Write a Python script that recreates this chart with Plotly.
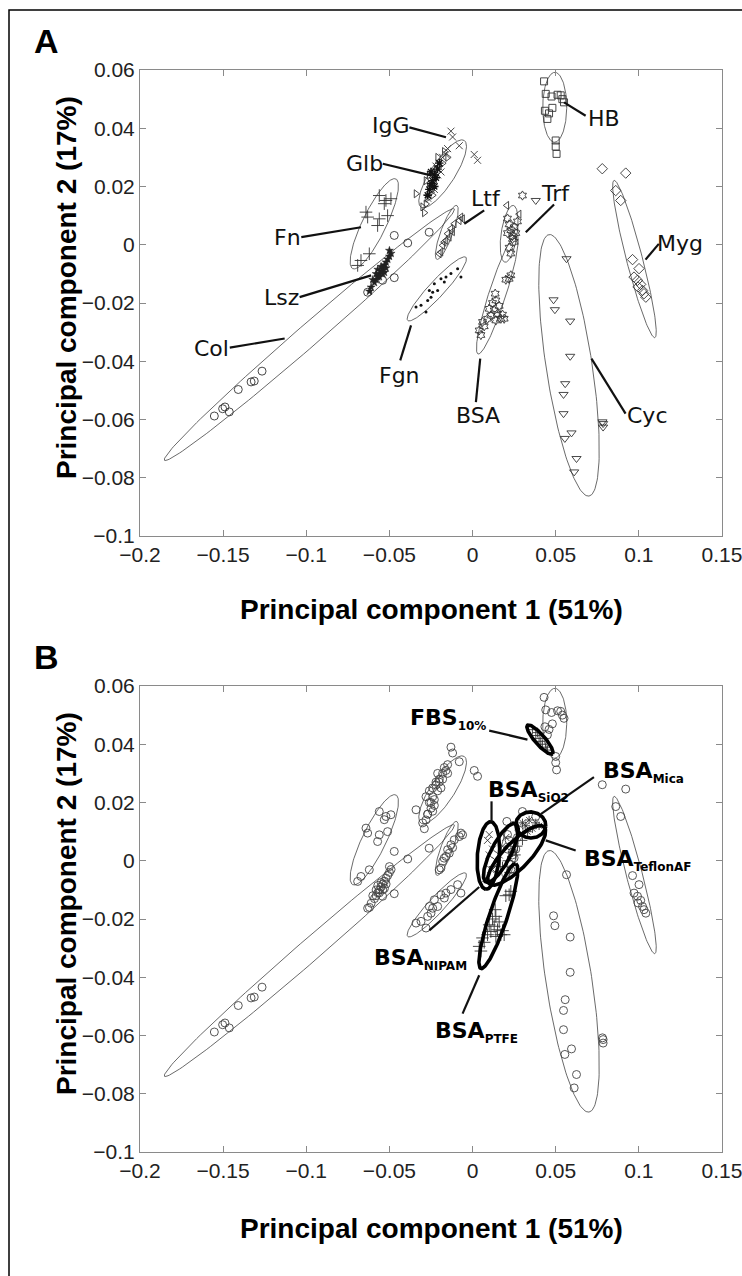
import numpy as np
import plotly.graph_objects as go

# ---------------- data ----------------
X_TICKS = [-0.2, -0.15, -0.1, -0.05, 0, 0.05, 0.1, 0.15]
X_TICK_TEXT = ["\u22120.2", "\u22120.15", "\u22120.1", "\u22120.05", "0", "0.05", "0.1", "0.15"]
Y_TICKS = [-0.1, -0.08, -0.06, -0.04, -0.02, 0, 0.02, 0.04, 0.06]
Y_TICK_TEXT = ["\u22120.1", "\u22120.08", "\u22120.06", "\u22120.04", "\u22120.02", "0", "0.02", "0.04", "0.06"]

HB_X = [0.043, 0.044, 0.0475, 0.0511, 0.053, 0.055, 0.0435, 0.046, 0.045, 0.050, 0.050, 0.0505, 0.048, 0.054]
HB_Y = [0.0561, 0.0518, 0.0509, 0.0515, 0.0513, 0.0489, 0.046, 0.0451, 0.0432, 0.0358, 0.0337, 0.0312, 0.047, 0.050]

IGG_X = [-0.013, -0.012, -0.008, 0.001, 0.003, -0.015, -0.018, -0.020, -0.022, -0.016, -0.019, -0.024, -0.021, -0.025, -0.023, -0.027]
IGG_Y = [0.039, 0.037, 0.034, 0.031, 0.029, 0.033, 0.030, 0.028, 0.027, 0.031, 0.025, 0.022, 0.024, 0.020, 0.019, 0.016]

GLB_X = [-0.034, -0.028, -0.026, -0.024, -0.022, -0.020, -0.018, -0.023, -0.025, -0.027, -0.028, -0.030, -0.021, -0.017, -0.015, -0.026, -0.024, -0.029]
GLB_Y = [0.0175, 0.022, 0.024, 0.025, 0.026, 0.027, 0.028, 0.021, 0.018, 0.016, 0.014, 0.013, 0.030, 0.032, 0.030, 0.020, 0.017, 0.011]
GLB2_X = [-0.026, -0.025, -0.024, -0.023, -0.022, -0.021, -0.027, -0.025, -0.023, -0.020]
GLB2_Y = [0.019, 0.021, 0.022, 0.024, 0.023, 0.026, 0.017, 0.025, 0.020, 0.028]

FN_X = [-0.0641, -0.0631, -0.0561, -0.0521, -0.0491, -0.0561, -0.0571, -0.0511, -0.0621, -0.0671, -0.0691, -0.0531]
FN_Y = [0.0112, 0.0095, 0.0169, 0.0152, 0.0158, 0.0089, 0.0066, 0.0100, -0.0031, -0.0054, -0.0071, 0.0141]

COL_X = [-0.1553, -0.1503, -0.1489, -0.1463, -0.1409, -0.1332, -0.1313, -0.1266, -0.0471, -0.039, -0.0261, -0.0631, -0.0471, -0.0541]
COL_Y = [-0.0588, -0.0563, -0.0557, -0.0574, -0.0497, -0.0471, -0.0468, -0.0434, 0.0032, 0.0006, 0.0043, -0.0163, -0.0113, -0.0122]

LSZ_X = [-0.061, -0.059, -0.058, -0.057, -0.056, -0.055, -0.054, -0.053, -0.052, -0.051, -0.050, -0.049, -0.058, -0.056, -0.054, -0.052, -0.060, -0.057, -0.055, -0.053, -0.062, -0.050]
LSZ_Y = [-0.0146, -0.013, -0.012, -0.011, -0.010, -0.009, -0.008, -0.007, -0.006, -0.005, -0.004, -0.003, -0.010, -0.011, -0.010, -0.008, -0.012, -0.0085, -0.0075, -0.0095, -0.016, -0.002]

LTF_X = [-0.019, -0.0171, -0.015, -0.013, -0.011, -0.007, -0.008, -0.014, -0.020, -0.018, -0.006, -0.012, -0.016, 0.0206, 0.028]
LTF_Y = [-0.0025, 0.0009, 0.0038, 0.0055, 0.0072, 0.0095, 0.0083, 0.0026, -0.0031, -0.0002, 0.0089, 0.0045, 0.0015, 0.0135, 0.0105]

FGN_X = [-0.034, -0.031, -0.027, -0.024, -0.021, -0.019, -0.016, -0.013, -0.009, -0.007, -0.028, -0.026, -0.023, -0.025, -0.017]
FGN_Y = [-0.0214, -0.0208, -0.0191, -0.0163, -0.0157, -0.0117, -0.0111, -0.0099, -0.0082, -0.0111, -0.0231, -0.0157, -0.0134, -0.018, -0.0128]

TRF_X = [0.021, 0.022, 0.023, 0.024, 0.025, 0.022, 0.023, 0.024, 0.026, 0.021, 0.025, 0.027, 0.030]
TRF_Y = [0.009, 0.007, 0.005, 0.003, 0.001, -0.001, -0.003, 0.002, 0.004, 0.004, 0.006, 0.008, 0.0169]

BSA_X = [0.022, 0.014, 0.013, 0.017, 0.006, 0.004, 0.015, 0.011, 0.009, 0.019, 0.0136, 0.023, 0.012, 0.010, 0.016, 0.018, 0.007, 0.005, 0.014, 0.020]
BSA_Y = [-0.0117, -0.0191, -0.0225, -0.0254, -0.0265, -0.0294, -0.0237, -0.0243, -0.0254, -0.0254, -0.0168, -0.0105, -0.020, -0.022, -0.021, -0.024, -0.028, -0.031, -0.026, -0.012]

CYC_X = [0.0565, 0.0487, 0.0495, 0.0587, 0.0587, 0.0557, 0.0547, 0.0547, 0.0595, 0.0555, 0.0625, 0.0611, 0.0785, 0.0785, 0.0781, 0.038]
CYC_Y = [-0.0048, -0.0189, -0.0223, -0.0262, -0.0383, -0.0477, -0.0514, -0.058, -0.0646, -0.0665, -0.0734, -0.078, -0.0614, -0.0626, -0.0608, 0.0152]

MYG_X = [0.078, 0.0921, 0.0861, 0.0891, 0.0962, 0.1001, 0.0971, 0.0992, 0.1011, 0.1022, 0.1042, 0.0995, 0.1031]
MYG_Y = [0.0261, 0.0246, 0.0186, 0.0152, -0.0051, -0.0082, -0.0111, -0.0122, -0.0136, -0.0157, -0.018, -0.0145, -0.0168]

# panel B extra groups (BSA on surfaces, FBS)
FBS_X = [0.036, 0.038, 0.040, 0.042, 0.044, 0.039, 0.041, 0.045]
FBS_Y = [0.045, 0.043, 0.042, 0.040, 0.039, 0.044, 0.041, 0.038]
SIO2_X = [0.009, 0.010, 0.011, 0.012, 0.008, 0.010]
SIO2_Y = [0.007, 0.002, -0.003, 0.004, -0.006, 0.009]
MICA_X = [0.030, 0.032, 0.034, 0.036, 0.038, 0.033, 0.040]
MICA_Y = [0.013, 0.012, 0.014, 0.011, 0.013, 0.010, 0.012]
TEF_X = [0.018, 0.021, 0.024, 0.027, 0.030, 0.022, 0.026]
TEF_Y = [-0.002, 0.000, 0.003, 0.005, 0.007, -0.004, 0.002]
NIP_X = [0.012, 0.014, 0.016, 0.018, 0.020, 0.015]
NIP_Y = [-0.003, 0.000, 0.002, 0.005, 0.008, -0.001]

# ellipses: tip1 (x,y), tip2 (x,y), minor half-width (px)
ELL_A = {
    "HB":  (0.0495, 0.0592, 0.0493, 0.0352, 12),
    "IgG": (-0.031, 0.0129, -0.005, 0.0358, 12),
    "Fn":  (-0.0461, 0.0226, -0.0721, -0.0082, 12),
    "Col": (-0.1853, -0.074, -0.011, 0.0123, 11),
    "Ltf": (-0.0215, -0.005, -0.0095, 0.0135, 6),
    "Fgn": (-0.039, -0.026, -0.004, -0.0043, 8),
    "Trf": (0.0195, -0.006, 0.0245, 0.0135, 8),
    "BSA": (0.0033, -0.0375, 0.0265, 0.0035, 8.5),
    "Cyc": (0.046, 0.0035, 0.070, -0.0863, 23),
    "Myg": (0.0851, 0.0221, 0.1096, -0.0319, 8),
}
ELL_B_BOLD = {
    "FBS":   (0.033, 0.0465, 0.048, 0.0367, 5),
    "SiO2":  (0.011, 0.0134, 0.008, -0.0098, 11),
    "Mica":  (0.026, 0.0128, 0.044, 0.0118, 13),
    "Teflon": (0.010, -0.0079, 0.043, 0.0116, 13),
    "NIPAM": (0.008, -0.0073, 0.026, 0.0127, 10),
    "PTFE":  (0.005, -0.037, 0.026, -0.001, 9),
}

# labels panel A: text, text pos, leader line
LAB_A = [
    ("HB", 0.079, 0.0432, 0.055, 0.0489, 0.068, 0.0443),
    ("IgG", -0.049, 0.0409, -0.038, 0.0403, -0.016, 0.0369),
    ("Glb", -0.065, 0.0278, -0.054, 0.0278, -0.025, 0.0238),
    ("Fn", -0.111, 0.0026, -0.103, 0.0026, -0.0671, 0.006),
    ("Lsz", -0.115, -0.018, -0.104, -0.018, -0.061, -0.0105),
    ("Col", -0.157, -0.0357, -0.146, -0.0353, -0.113, -0.0322),
    ("Fgn", -0.044, -0.0448, -0.037, -0.0277, -0.0435, -0.0397),
    ("Ltf", 0.008, 0.0158, 0.007, 0.0118, -0.005, 0.0072),
    ("Trf", 0.050, 0.0175, 0.049, 0.0138, 0.032, 0.0043),
    ("BSA", 0.003, -0.0586, 0.0046, -0.0391, 0.002, -0.054),
    ("Cyc", 0.105, -0.0586, 0.0715, -0.0391, 0.092, -0.058),
    ("Myg", 0.125, 0.0003, 0.104, -0.0051, 0.112, 0.0003),
]
# labels panel B: main, subscript, x, y, anchor, leader line
LAB_B = [
    ("FBS", "10%", -0.039, 0.0487, "left", 0.010, 0.0447, 0.033, 0.0416),
    ("BSA", "SiO2", 0.008, 0.0241, "left", 0.0114, 0.0204, 0.0114, 0.0134),
    ("BSA", "Mica", 0.077, 0.0304, "left", 0.073, 0.0287, 0.041, 0.016),
    ("BSA", "TeflonAF", 0.066, 0.0001, "left", 0.044, 0.0070, 0.062, 0.0035),
    ("BSA", "NIPAM", -0.002, -0.0336, "right", -0.026, -0.0239, 0.004, -0.009),
    ("BSA", "PTFE", -0.024, -0.0588, "left", 0.004, -0.0393, -0.006, -0.0525),
]

# ---------------- geometry ----------------
W, H = 742, 1276
AX_L, AX_R = 140, 722
PANELS = {"A": (70, 536), "B": (686, 1152)}
XR = (-0.2, 0.15)
YR = (-0.1, 0.06)
SX = (AX_R - AX_L) / (XR[1] - XR[0])
SY = (PANELS["A"][1] - PANELS["A"][0]) / (YR[1] - YR[0])


def ellipse(p, n=160):
    x1, y1, x2, y2, w = p
    p1 = np.array([x1 * SX, y1 * SY])
    p2 = np.array([x2 * SX, y2 * SY])
    c = (p1 + p2) / 2
    u = (p2 - p1) / 2
    L = np.hypot(*u)
    v = np.array([-u[1], u[0]]) / L * w
    t = np.linspace(0, 2 * np.pi, n)
    pts = c[:, None] + np.outer(u, np.cos(t)) + np.outer(v, np.sin(t))
    return pts[0] / SX, pts[1] / SY


fig = go.Figure()
MC = "#333333"


def pts(x, y, sym, ax, size=7, color=MC, lw=0.9):
    xa, ya = ("x", "y") if ax == "A" else ("x2", "y2")
    fig.add_trace(go.Scatter(
        x=x, y=y, mode="markers", xaxis=xa, yaxis=ya, showlegend=False, hoverinfo="skip",
        marker=dict(symbol=sym, size=size, color=color, line=dict(color=color, width=lw))))


def line(x, y, ax, width=0.8, color="#444444"):
    xa, ya = ("x", "y") if ax == "A" else ("x2", "y2")
    fig.add_trace(go.Scatter(x=x, y=y, mode="lines", xaxis=xa, yaxis=ya, showlegend=False,
                             hoverinfo="skip", line=dict(color=color, width=width)))


# ---------- panel A ----------
for k, p in ELL_A.items():
    ex, ey = ellipse(p)
    line(ex, ey, "A")
pts(HB_X, HB_Y, "square-open", "A")
pts(IGG_X, IGG_Y, "x-thin-open", "A", size=7)
pts(GLB_X, GLB_Y, "triangle-right-open", "A")
pts(GLB2_X, GLB2_Y, "asterisk-open", "A", size=7, lw=1.3, color="#111111")
pts(FN_X, FN_Y, "cross-thin-open", "A", size=9)
pts(COL_X, COL_Y, "circle-open", "A", size=8)
pts(LSZ_X, LSZ_Y, "star", "A", size=6, color="#222222", lw=0.5)
pts(LTF_X, LTF_Y, "triangle-left-open", "A")
pts(FGN_X, FGN_Y, "circle", "A", size=3, color="#111111", lw=0)
pts(TRF_X, TRF_Y, "hexagram-open", "A", size=7)
pts(BSA_X, BSA_Y, "hexagram-open", "A", size=7)
pts(CYC_X, CYC_Y, "triangle-down-open", "A", size=8)
pts(MYG_X, MYG_Y, "diamond-open", "A", size=8)

annotations = []
for t, tx, ty, lx1, ly1, lx2, ly2 in LAB_A:
    line([lx1, lx2], [ly1, ly2], "A", width=2.2, color="#111111")
    annotations.append(dict(x=tx, y=ty, xref="x", yref="y", text=t, showarrow=False,
                            font=dict(family="DejaVu Sans", size=22, color="#111111")))

# ---------- panel B ----------
for k, p in ELL_A.items():
    if k == "BSA":
        continue
    ex, ey = ellipse(p)
    line(ex, ey, "B")
for gx, gy in [(HB_X, HB_Y), (IGG_X, IGG_Y), (GLB_X, GLB_Y), (FN_X, FN_Y), (COL_X, COL_Y),
               (LSZ_X, LSZ_Y), (LTF_X, LTF_Y), (FGN_X, FGN_Y), (TRF_X, TRF_Y),
               (CYC_X, CYC_Y), (MYG_X, MYG_Y)]:
    pts(gx, gy, "circle-open", "B", size=8, color="#444444")
pts(BSA_X, BSA_Y, "cross-thin-open", "B", size=9)
pts(FBS_X, FBS_Y, "cross-thin-open", "B", size=7)
pts(SIO2_X, SIO2_Y, "x-thin-open", "B", size=7)
pts(MICA_X, MICA_Y, "asterisk-open", "B", size=7)
pts(TEF_X, TEF_Y, "cross-thin-open", "B", size=7)
pts(NIP_X, NIP_Y, "x-thin-open", "B", size=7)
for k, p in ELL_B_BOLD.items():
    ex, ey = ellipse(p)
    line(ex, ey, "B", width=3.6, color="#000000")
for t, sub, tx, ty, anc, lx1, ly1, lx2, ly2 in LAB_B:
    line([lx1, lx2], [ly1, ly2], "B", width=2.2, color="#111111")
    annotations.append(dict(x=tx, y=ty, xref="x2", yref="y2", xanchor=anc,
                            text=f"<b>{t}</b><sub><b><span style='font-size:12px'>{sub}</span></b></sub>",
                            showarrow=False,
                            font=dict(family="DejaVu Sans", size=22, color="#000000")))

# ---------- axes ----------
def ydom(top, bot):
    return [1 - bot / H, 1 - top / H]


axis_common = dict(showline=True, linecolor="#8a8a8a", linewidth=1, mirror="ticks",
                   ticks="inside", ticklen=6, tickcolor="#8a8a8a", showgrid=False,
                   zeroline=False, ticklabeloverflow="allow",
                   tickfont=dict(family="Liberation Sans", size=21, color="#222222"))
xdom = [AX_L / W, AX_R / W]
fig.update_layout(
    xaxis=dict(domain=xdom, range=list(XR), tickvals=X_TICKS, ticktext=X_TICK_TEXT,
               anchor="y", **axis_common),
    yaxis=dict(domain=ydom(*PANELS["A"]), range=list(YR), tickvals=Y_TICKS,
               ticktext=Y_TICK_TEXT, anchor="x", **axis_common),
    xaxis2=dict(domain=xdom, range=list(XR), tickvals=X_TICKS, ticktext=X_TICK_TEXT,
                anchor="y2", **axis_common),
    yaxis2=dict(domain=ydom(*PANELS["B"]), range=list(YR), tickvals=Y_TICKS,
                ticktext=Y_TICK_TEXT, anchor="x2", **axis_common),
)

TITLE_FONT = dict(family="Liberation Sans", size=28, color="#000000")
XLAB = "<b>Principal component 1 (51%)</b>"
YLAB = "<b>Principal component 2 (17%)</b>"
for xl_y, yl_y, letter, let_y in [(609, 288, "A", 41), (1228, 904, "B", 657)]:
    annotations.append(dict(x=(AX_L + AX_R) / 2 / W, y=1 - xl_y / H, xref="paper", yref="paper",
                            text=XLAB, showarrow=False, font=TITLE_FONT,
                            xanchor="center", yanchor="middle"))
    annotations.append(dict(x=66 / W, y=1 - yl_y / H, xref="paper", yref="paper",
                            text=YLAB, showarrow=False, font=TITLE_FONT, textangle=-90,
                            xanchor="center", yanchor="middle"))
    annotations.append(dict(x=46 / W, y=1 - let_y / H, xref="paper", yref="paper",
                            text=f"<b>{letter}</b>", showarrow=False,
                            font=dict(family="Liberation Sans", size=34, color="#000000"),
                            xanchor="center", yanchor="middle"))

fig.update_layout(
    width=W, height=H, margin=dict(l=0, r=0, t=0, b=0, autoexpand=False),
    paper_bgcolor="white", plot_bgcolor="white", annotations=annotations,
    shapes=[dict(type="rect", xref="paper", yref="paper", x0=9 / W, x1=1.02,
                 y0=-0.02, y1=1 - 10 / H, line=dict(color="black", width=1.5))],
)

fig.write_html("out.html", config={"displayModeBar": False},
               post_script="document.body.style.margin='0';document.body.style.overflow='hidden';")
